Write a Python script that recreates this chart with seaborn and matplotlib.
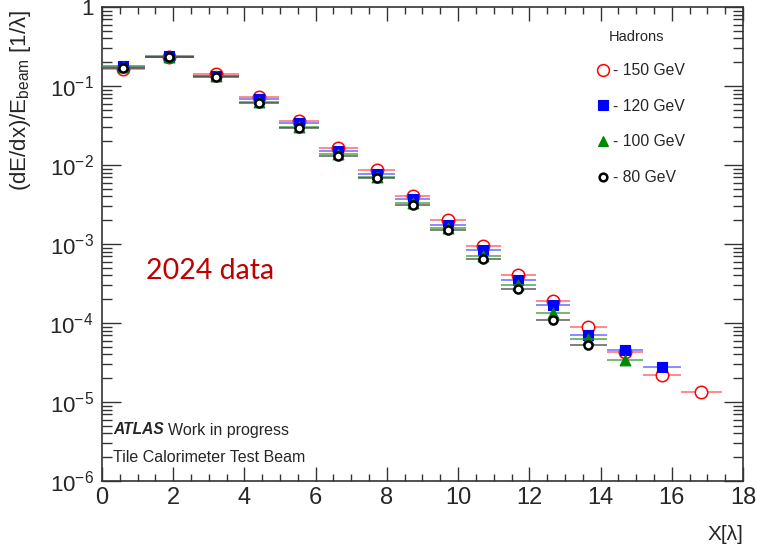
import numpy as np
import pandas as pd
import matplotlib
matplotlib.use("Agg")
import matplotlib.pyplot as plt
import seaborn as sns
from matplotlib.lines import Line2D
from matplotlib.ticker import FixedLocator, MultipleLocator, LogLocator, NullFormatter

# ---------------- data ----------------
x_centers = [0.6, 1.885, 3.2, 4.41, 5.53, 6.64, 7.71, 8.72, 9.72, 10.71,
             11.69, 12.67, 13.66, 14.69, 15.72, 16.83]
x_halfwidth = [0.6, 0.685, 0.635, 0.57, 0.55, 0.56, 0.51, 0.50, 0.50, 0.49,
               0.49, 0.485, 0.51, 0.515, 0.525, 0.575]

e150 = [0.163, 0.235, 0.140, 0.073, 0.036, 0.0166, 0.0086, 0.0041, 0.0020,
        0.00093, 0.00041, 0.00019, 8.8e-5, 4.3e-5, 2.2e-5, 1.33e-5]
e120 = [0.178, 0.240, 0.135, 0.068, 0.034, 0.0150, 0.0076, 0.0037, 0.00176,
        0.00085, 0.00035, 0.00017, 7.1e-5, 4.6e-5, 2.8e-5]
e100 = [0.172, 0.235, 0.132, 0.063, 0.030, 0.0138, 0.0071, 0.0033, 0.00158,
        0.00070, 0.000305, 0.000133, 6.2e-5, 3.4e-5]
e80 = [0.168, 0.233, 0.130, 0.061, 0.029, 0.0130, 0.0069, 0.0031, 0.00149,
       0.00065, 0.00027, 0.000110, 5.2e-5]

labels = ["- 150 GeV", "- 120 GeV", "- 100 GeV", "- 80 GeV"]
y_ticks = [1e-6, 1e-5, 1e-4, 1e-3, 1e-2, 1e-1, 1]
y_ticklabels = [r"$\mathdefault{10^{-6}}$", r"$\mathdefault{10^{-5}}$",
                r"$\mathdefault{10^{-4}}$", r"$\mathdefault{10^{-3}}$",
                r"$\mathdefault{10^{-2}}$", r"$\mathdefault{10^{-1}}$", "1"]
x_ticks = [0, 2, 4, 6, 8, 10, 12, 14, 16, 18]

# ---------------- style ----------------
sns.set_style("white")
plt.rcParams["font.family"] = ["Liberation Sans", "DejaVu Sans"]
plt.rcParams["mathtext.fontset"] = "custom"
plt.rcParams["mathtext.rm"] = "Liberation Sans"
plt.rcParams["mathtext.it"] = "Liberation Sans:italic"
plt.rcParams["mathtext.bf"] = "Liberation Sans:bold"

W, H = 757, 544
fig = plt.figure(figsize=(W / 100, H / 100), dpi=100)
L, R, T, B = 102, 743, 7, 481
ax = fig.add_axes([L / W, 1 - B / H, (R - L) / W, (B - T) / H])

series = [
    dict(vals=e150, color="#ff0000", bar="#ff5555", marker="o", s=80, face="white", lw=1.1),
    dict(vals=e120, color="#0000ff", bar="#5555ff", marker="s", s=60, face="#0000ff", lw=0.8),
    dict(vals=e100, color="#008800", bar="#339933", marker="^", s=60, face="#008800", lw=0.8),
    dict(vals=e80, color="#000000", bar="#444444", marker="o", s=34, face="white", lw=1.8),
]

handles = []
for i, sd in enumerate(series):
    n = len(sd["vals"])
    df = pd.DataFrame({"x": x_centers[:n], "y": sd["vals"], "hw": x_halfwidth[:n]})
    ax.errorbar(df["x"], df["y"], xerr=df["hw"], fmt="none", ecolor=sd["bar"],
                elinewidth=1.2, alpha=0.8, zorder=2 + 2 * i)
    sns.scatterplot(data=df, x="x", y="y", ax=ax, marker=sd["marker"], s=sd["s"],
                    color=sd["face"], edgecolor=sd["color"], linewidth=sd["lw"],
                    zorder=3 + 2 * i, legend=False)
    ms = np.sqrt(sd["s"]) * 0.95
    handles.append(Line2D([], [], linestyle="none", marker=sd["marker"], markersize=ms,
                          markerfacecolor=sd["face"], markeredgecolor=sd["color"],
                          markeredgewidth=sd["lw"]))

ax.set_yscale("log")
ax.set_xlim(0, 18)
ax.set_ylim(1e-6, 1)
ax.set_xticks(x_ticks)
ax.set_xticklabels([str(t) for t in x_ticks])
ax.xaxis.set_minor_locator(MultipleLocator(0.5))
ax.yaxis.set_major_locator(FixedLocator(y_ticks))
ax.set_yticklabels(y_ticklabels)
ax.yaxis.set_minor_locator(LogLocator(base=10, subs=np.arange(2, 10), numticks=20))
ax.yaxis.set_minor_formatter(NullFormatter())

frame_col = "#333333"
for sp in ax.spines.values():
    sp.set_color(frame_col)
    sp.set_linewidth(1.2)
    sp.set_visible(True)

ax.tick_params(axis="x", which="major", direction="in", length=10, width=1.0,
               color=frame_col, top=True, bottom=True, labelsize=17, pad=4)
ax.tick_params(axis="x", which="minor", direction="in", length=5, width=1.0,
               color=frame_col, top=True, bottom=True)
ax.tick_params(axis="y", which="major", direction="in", length=14, width=1.0,
               color=frame_col, left=True, right=True, labelsize=16, pad=6)
ax.tick_params(axis="y", which="minor", direction="in", length=7, width=1.0,
               color=frame_col, left=True, right=True)

ax.set_xlabel("X[λ]", fontsize=15, loc="right")
ax.xaxis.set_label_coords(1.0, -0.093)
ax.set_ylabel(r"(dE/dx)/E$_{\mathrm{beam}}$ [1/λ]", fontsize=16, loc="top")
ax.yaxis.set_label_coords(-0.107, 0.995)

# legend
fig.text(609 / W, 1 - 37 / H, "Hadrons", fontsize=10.5, ha="left", va="center")
fig.legend(handles, labels, loc="upper left", bbox_to_anchor=(596 / W, 1 - 63 / H),
           frameon=False, fontsize=11.3, handlelength=0.9, handletextpad=0.2,
           labelspacing=1.32, borderpad=0, borderaxespad=0)

# annotations
fig.text(146 / W, 1 - 271 / H, "2024 data", color="#c00000", fontsize=20.5,
         family=["Lato", "DejaVu Sans"], ha="left", va="center")
fig.text(113 / W, 1 - 430 / H, "ATLAS", fontsize=11.2, fontweight="bold",
         style="italic", ha="left", va="center")
fig.text(168 / W, 1 - 430 / H, "Work in progress", fontsize=11.5, ha="left", va="center")
fig.text(113 / W, 1 - 458 / H, "Tile Calorimeter Test Beam", fontsize=11.5,
         ha="left", va="center")

fig.savefig("out.png", dpi=100)
